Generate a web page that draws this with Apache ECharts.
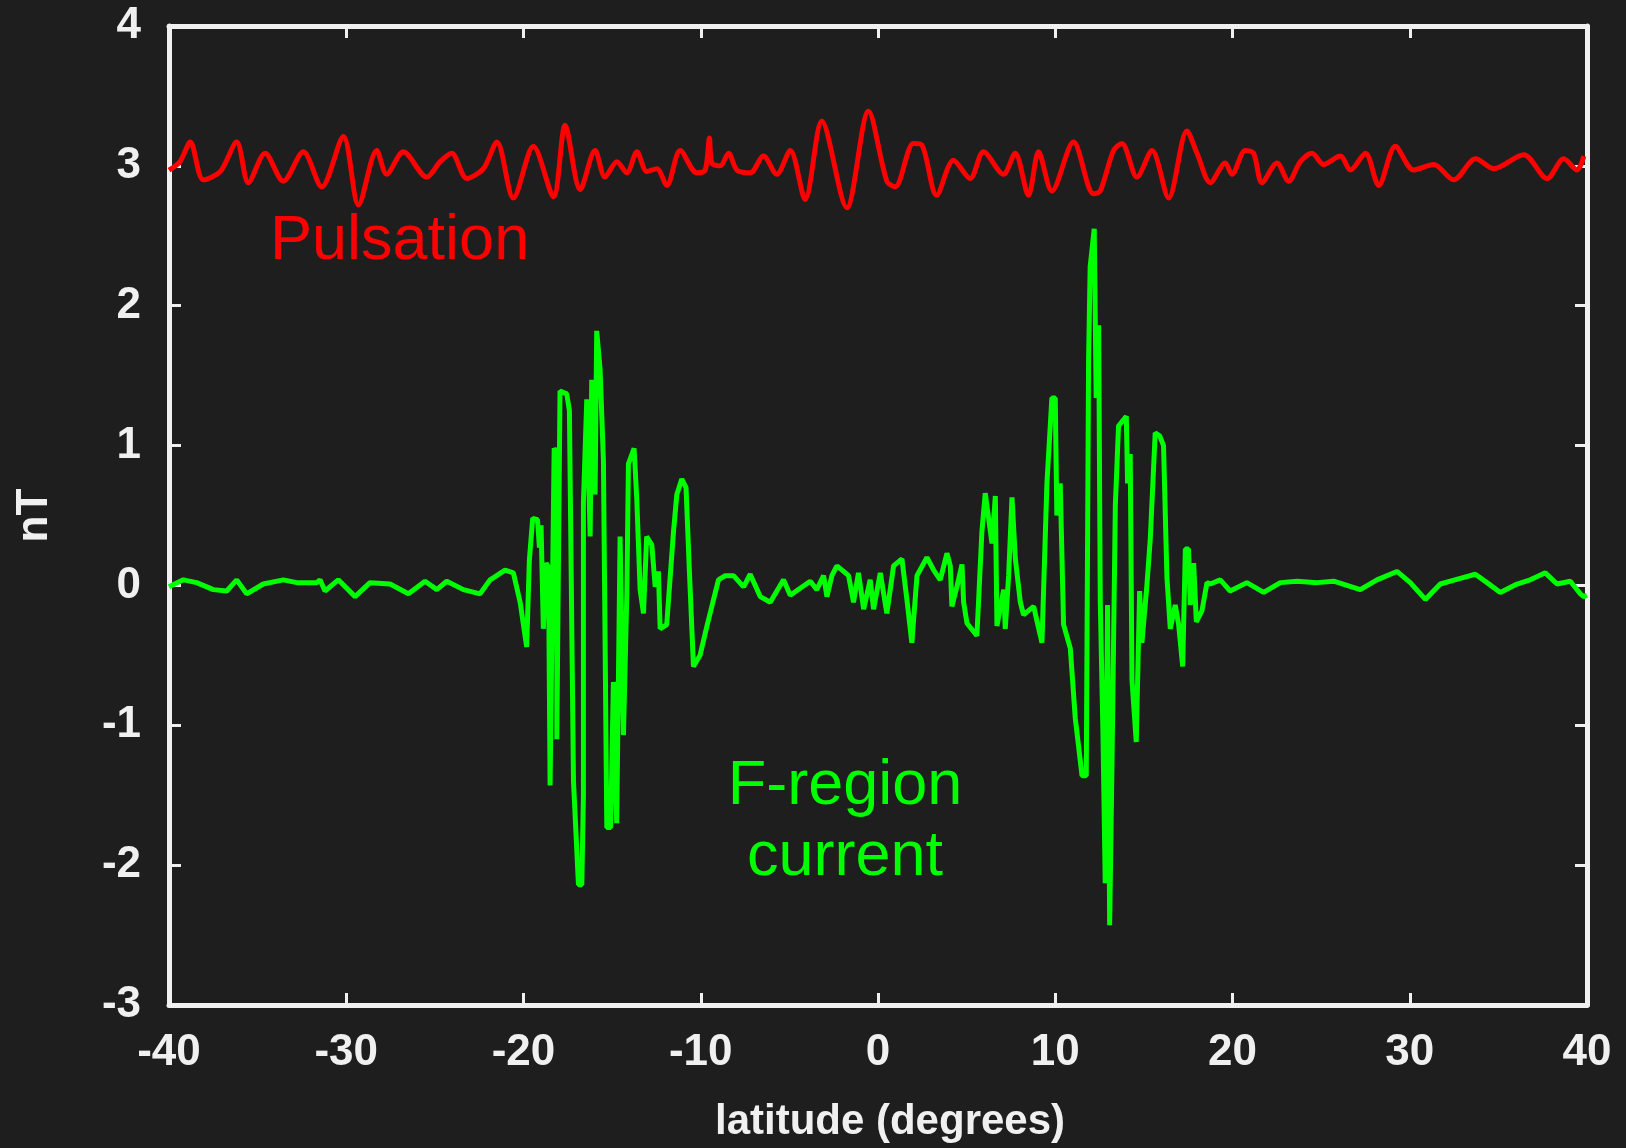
<!DOCTYPE html>
<html>
<head>
<meta charset="utf-8">
<script src="https://cdn.jsdelivr.net/npm/echarts@6/dist/echarts.min.js"></script>
<style>
html,body{margin:0;padding:0;background:#1e1e1e;}
#chart{width:1626px;height:1148px;}
</style>
</head>
<body>
<div id="chart"></div>
<script>
// x tick values (degrees latitude) and y tick values (nT)
const xTicks = [-40, -30, -20, -10, 0, 10, 20, 30, 40];
const yTicks = [-3, -2, -1, 0, 1, 2, 3, 4];

// Pulsation (red) trace: latitude, nT
const pulsationLat = [
  -40.0,-39.38,-38.8,-38.06,-37.1,-36.18,-35.52,-34.58,-33.55,-32.42,-31.38,-30.16,-29.31,-28.28,-27.72,-26.78,
  -25.46,-24.7,-24.05,-23.2,-22.26,-21.5,-20.57,-19.44,-18.31,-17.65,-16.8,-15.96,-15.4,-14.73,-14.17,-13.6,
  -13.04,-12.48,-11.91,-11.16,-10.22,-9.75,-9.51,-9.37,-8.9,-8.43,-7.96,-7.21,-6.46,-5.71,-4.95,-4.11,-3.17,
  -1.76,-0.54,0.5,0.97,2.0,2.47,3.31,4.26,5.2,5.95,7.08,7.74,8.49,9.06,9.81,11.03,12.16,12.54,13.29,13.76,
  14.61,15.46,16.4,17.43,18.0,18.75,19.59,19.97,20.72,21.19,21.66,22.51,23.17,23.83,24.49,25.14,26.08,26.65,
  27.5,28.25,29.19,30.22,31.35,32.48,33.72,34.74,36.43,37.75,38.69,39.44,39.82
];
const pulsationVal = [
  2.97,3.03,3.17,2.90,2.96,3.17,2.88,3.09,2.89,3.10,2.85,3.21,2.72,3.11,2.94,3.10,
  2.92,3.03,3.09,2.91,2.98,3.17,2.77,3.14,2.78,3.29,2.83,3.11,2.92,3.03,2.95,3.10,
  2.96,2.98,2.86,3.11,2.95,2.97,3.20,3.02,3.00,3.09,2.97,2.95,3.07,2.94,3.11,2.76,3.32,
  2.70,3.39,2.89,2.85,3.16,3.15,2.79,3.04,2.91,3.10,2.94,3.09,2.79,3.10,2.82,3.17,2.80,2.82,3.11,3.16,
  2.92,3.11,2.77,3.25,3.09,2.88,3.02,2.94,3.11,3.09,2.88,3.02,2.89,3.03,3.09,3.01,3.07,2.97,
  3.09,2.86,3.14,2.97,3.01,2.90,3.05,2.98,3.08,2.91,3.05,2.97,3.07
];

// F-region current (green) trace: latitude, nT
const currentLat = [
  -40.0,-39.19,-38.44,-37.5,-36.74,-36.18,-35.62,-34.68,-33.55,-32.79,-31.66,-31.48,-31.2,-30.45,-29.5,-28.66,
  -27.53,-26.49,-25.55,-24.89,-24.33,-23.39,-22.45,-21.88,-21.04,-20.57,-20.19,-19.82,-19.67,-19.48,-19.21,-19.1,
  -19.01,-18.88,-18.73,-18.59,-18.5,-18.27,-18.12,-18.12,-17.94,-17.56,-17.41,-17.18,-16.9,-16.71,-16.62,-16.62,
  -16.43,-16.24,-16.15,-15.96,-15.87,-15.68,-15.49,-15.3,-15.08,-14.93,-14.74,-14.55,-14.36,-14.17,-14.08,-13.76,
  -13.61,-13.42,-13.23,-13.05,-12.76,-12.57,-12.39,-12.29,-11.92,-11.54,-11.35,-11.07,-10.83,-10.64,-10.41,-10.04,
  -9.65,-9.0,-8.62,-8.15,-7.58,-7.21,-6.64,-6.08,-5.33,-4.95,-4.39,-3.82,-3.45,-3.07,-2.88,-2.6,-2.32,-1.94,
  -1.66,-1.38,-1.1,-0.81,-0.44,-0.25,0.13,0.5,0.88,1.35,1.63,1.91,2.2,2.76,3.14,3.51,3.89,4.08,4.17,4.45,4.74,
  4.83,5.02,5.58,5.86,6.05,6.43,6.62,6.71,7.09,7.18,7.37,7.56,7.75,8.03,8.21,8.78,9.25,9.53,9.81,10.0,10.09,
  10.28,10.47,10.85,11.13,11.51,11.75,11.88,11.97,12.2,12.31,12.45,12.54,12.69,12.82,12.95,13.07,13.2,13.39,
  13.57,14.01,14.08,14.23,14.33,14.57,14.76,14.89,15.17,15.36,15.64,15.89,16.11,16.3,16.49,16.77,16.96,17.19,
  17.34,17.52,17.62,17.81,17.96,18.28,18.56,18.75,19.31,19.87,20.81,21.76,22.7,23.64,24.77,25.71,27.21,28.15,
  29.28,30.03,30.88,31.72,32.85,33.7,34.36,35.11,36.05,36.8,37.65,38.31,39.06,39.62,39.81,40.0
];
const currentVal = [
  -0.01,0.04,0.02,-0.03,-0.04,0.04,-0.06,0.01,0.04,0.02,0.02,0.04,-0.04,0.04,-0.08,0.02,
  0.01,-0.06,0.03,-0.03,0.03,-0.03,-0.06,0.04,0.11,0.09,-0.12,-0.44,0.18,0.48,0.47,0.27,
  0.43,-0.31,0.16,0.13,-1.43,0.98,0.95,-1.10,1.39,1.37,1.25,-1.40,-2.14,-2.14,-1.51,0.59,
  1.33,0.35,1.47,0.65,1.82,1.55,0.89,-1.73,-1.73,-0.69,-1.70,0.35,-1.07,-0.06,0.87,0.98,
  0.62,-0.03,-0.20,0.35,0.29,-0.01,0.10,-0.31,-0.28,0.38,0.65,0.76,0.70,0.10,-0.58,-0.50,
  -0.29,0.04,0.07,0.07,-0.01,0.08,-0.08,-0.12,0.04,-0.07,-0.02,0.03,-0.03,0.07,-0.08,0.07,0.14,0.10,
  0.07,-0.12,0.09,-0.17,0.04,-0.17,0.09,-0.20,0.14,0.19,-0.10,-0.41,0.07,0.20,0.11,0.04,0.23,0.14,-0.15,-0.01,0.15,
  -0.12,-0.27,-0.36,0.38,0.66,0.30,0.64,-0.29,-0.03,-0.31,0.07,0.63,0.19,-0.12,-0.21,-0.15,-0.41,0.73,1.34,1.34,0.50,
  0.73,-0.28,-0.45,-0.95,-1.36,-1.36,1.61,2.28,2.55,1.34,1.86,-0.11,-1.05,-2.13,-0.14,-2.43,-1.29,0.57,
  1.14,1.21,0.73,0.94,-0.68,-1.12,-0.04,-0.41,0.00,0.33,1.09,1.07,1.00,0.06,-0.31,-0.14,-0.28,-0.58,
  0.26,0.26,-0.14,0.16,-0.26,-0.18,0.02,0.01,0.04,-0.04,0.02,-0.05,0.02,0.03,0.02,0.03,-0.03,0.04,
  0.10,0.02,-0.10,0.01,0.05,0.08,0.02,-0.05,0.01,0.04,0.09,0.01,0.03,-0.06,-0.08,-0.07
];

const pulsationData = pulsationLat.map((x, i) => [x, pulsationVal[i]]);
const currentData = currentLat.map((x, i) => [x, currentVal[i]]);

const FG = '#f0f0f0';
const FONT = '"Liberation Sans", Arial, sans-serif';

function axisBase(extra) {
  return Object.assign({
    type: 'value',
    splitLine: { show: false },
    axisLine: { show: true, onZero: false, lineStyle: { color: FG, width: 5 } },
    axisTick: { show: true, inside: true, length: 12, lineStyle: { color: FG, width: 3 } }
  }, extra);
}

const chart = echarts.init(document.getElementById('chart'), null, { renderer: 'canvas' });
chart.setOption({
  backgroundColor: '#1e1e1e',
  animation: false,
  grid: { left: 169, right: 39, top: 26, bottom: 142, containLabel: false },
  xAxis: [
    axisBase({
      position: 'bottom', min: xTicks[0], max: xTicks[xTicks.length - 1], interval: 10,
      axisLabel: { color: FG, fontSize: 44, fontWeight: 'bold', fontFamily: FONT, margin: 26 },
      name: 'latitude (degrees)', nameLocation: 'middle', nameGap: 96,
      nameTextStyle: { color: FG, fontSize: 42, fontWeight: 'bold', fontFamily: FONT, padding: [0, 0, 0, 24] }
    }),
    axisBase({
      position: 'top', min: xTicks[0], max: xTicks[xTicks.length - 1], interval: 10,
      axisLabel: { show: false }
    })
  ],
  yAxis: [
    axisBase({
      position: 'left', min: yTicks[0], max: yTicks[yTicks.length - 1], interval: 1,
      axisLabel: { color: FG, fontSize: 44, fontWeight: 'bold', fontFamily: FONT, margin: 28 },
      name: 'nT', nameLocation: 'middle', nameGap: 112, nameRotate: 90,
      nameTextStyle: { color: FG, fontSize: 44, fontWeight: 'bold', fontFamily: FONT }
    }),
    axisBase({
      position: 'right', min: yTicks[0], max: yTicks[yTicks.length - 1], interval: 1,
      axisLabel: { show: false }
    })
  ],
  series: [
    {
      name: 'Pulsation', type: 'line', xAxisIndex: 0, yAxisIndex: 0,
      data: pulsationData, showSymbol: false, smooth: 0.3,
      lineStyle: { color: '#ff0000', width: 5 }
    },
    {
      name: 'F-region current', type: 'line', xAxisIndex: 0, yAxisIndex: 0,
      data: currentData, showSymbol: false, smooth: false,
      lineStyle: { color: '#00ff00', width: 5 }
    }
  ],
  graphic: [
    { type: 'text', x: 270, y: 242, style: { text: 'Pulsation', fill: '#ff0000', font: '63px ' + FONT, textAlign: 'left', textVerticalAlign: 'middle' } },
    { type: 'text', x: 845, y: 787, style: { text: 'F-region', fill: '#00ff00', font: '63px ' + FONT, textAlign: 'center', textVerticalAlign: 'middle' } },
    { type: 'text', x: 845, y: 858, style: { text: 'current', fill: '#00ff00', font: '63px ' + FONT, textAlign: 'center', textVerticalAlign: 'middle' } }
  ]
});
</script>
</body>
</html>
